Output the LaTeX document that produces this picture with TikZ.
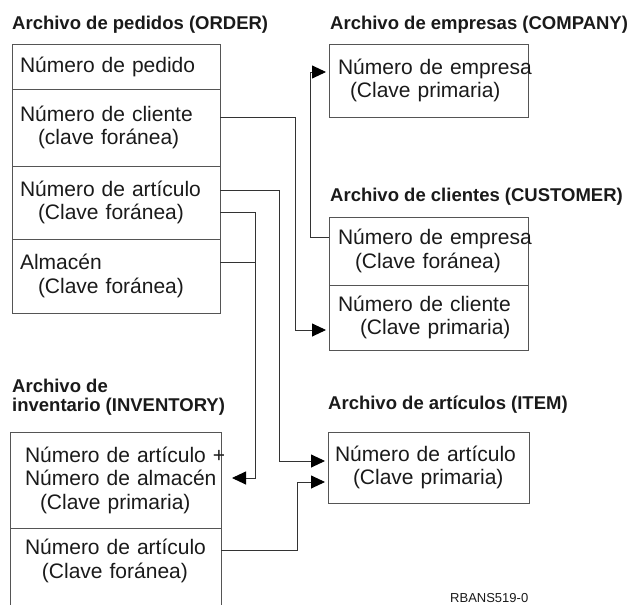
\documentclass[tikz,border=0pt]{standalone}
\usepackage{fontspec}
\setmainfont{Liberation Sans}
\usetikzlibrary{positioning, arrows.meta}

\definecolor{borde}{HTML}{555555}
\definecolor{linea}{HTML}{333333}
\definecolor{texto}{HTML}{1A1A1A}

\tikzset{
  titulo/.style={anchor=west, inner sep=0pt, align=left, text=texto,
    font=\fontsize{18.5}{19}\selectfont\bfseries},
  campo/.style={draw=borde, line width=1pt, rectangle, outer sep=0pt, inner ysep=0pt,
    align=left, text=texto, font=\fontsize{21}{23.5}\selectfont},
  pedido/.style={campo, inner xsep=8pt, text width=192pt},
  empresa/.style={campo, inner xsep=9pt, text width=181pt},
  articulo/.style={campo, inner xsep=7pt, text width=187pt},
  inventario/.style={campo, inner xsep=15pt, text width=181pt},
  enlace/.style={draw=linea, line width=0.9pt},
  flecha/.style={enlace, -{Triangle[length=14pt, width=13pt, color=black]}, shorten >=3pt},
}

\begin{document}
\begin{tikzpicture}[x=1pt, y=-1pt]
  \useasboundingbox (0,0) rectangle (630,605);

  % archivo ORDER
  \node[titulo] (tord) at (12,25) {Archivo de pedidos (ORDER)};
  \node[pedido, minimum height=45pt, anchor=north west] (o1) at (12,44) {Número de pedido};
  \node[pedido, minimum height=77pt, below=0pt of o1] (o2) {Número de cliente\\\hspace*{18pt}(clave foránea)};
  \node[pedido, minimum height=73pt, below=0pt of o2] (o3) {Número de artículo\\\hspace*{18pt}(Clave foránea)};
  \node[pedido, minimum height=74pt, below=0pt of o3] (o4) {Almacén\\\hspace*{18pt}(Clave foránea)};

  % archivo COMPANY
  \node[titulo] (tcomp) at (330,25) {Archivo de empresas (COMPANY)};
  \node[empresa, minimum height=73pt, anchor=north west] (c0) at (329,44) {\mbox{Número de empresa}\\\hspace*{12pt}(Clave primaria)};

  % archivo CUSTOMER
  \node[titulo] (tcust) at (330,197) {Archivo de clientes (CUSTOMER)};
  \node[empresa, minimum height=68pt, anchor=north west] (c1) at (329,217) {\mbox{Número de empresa}\\\hspace*{17pt}(Clave foránea)};
  \node[empresa, minimum height=65pt, below=0pt of c1] (c2) {Número de cliente\\\hspace*{22pt}(Clave primaria)};

  % archivo ITEM
  \node[titulo] (titem) at (328,405) {Archivo de artículos (ITEM)};
  \node[articulo, minimum height=71pt, anchor=north west] (it) at (328,432) {Número de artículo\\\hspace*{18pt}(Clave primaria)};

  % archivo INVENTORY
  \node[titulo] (tinv) at (12,397.5) {Archivo de\\inventario (INVENTORY)};
  \node[inventario, minimum height=96pt, anchor=north west] (i1) at (10,432) {\mbox{Número de artículo +}\\\mbox{Número de almacén}\\\hspace*{15pt}(Clave primaria)};
  \node[inventario, draw=none, minimum height=66pt, below=0pt of i1] (i2) {Número de artículo\\\hspace*{17pt}(Clave foránea)};
  \draw[draw=borde, line width=1pt] ([yshift=-20pt]i2.south west) -- (i2.north west)
    (i2.north east) -- ([yshift=-20pt]i2.south east);

  % enlaces
  \draw[flecha] ([yshift=10.5pt]o2.east) -- ++(75,0) |- ([yshift=-12.5pt]c2.west);
  \draw[flecha] ([yshift=14pt]c1.west) -- ++(-19,0) |- ([yshift=8.5pt]c0.west);
  \draw[flecha] ([yshift=12.5pt]o3.east) -- ++(59,0) |- ([yshift=6.5pt]it.west);
  \draw[flecha] ([yshift=-9.5pt]o3.east) -- ++(35,0) |- ([xshift=8pt, yshift=2pt]i1.east);
  \draw[enlace] ([yshift=14pt]o4.east) -- ++(35,0);
  \draw[flecha] ([yshift=11pt]i2.east) -- ++(76,0) |- ([yshift=-14.5pt]it.west);

  \node[anchor=base west, inner sep=0pt, text=texto, font=\fontsize{13}{13}\selectfont] (ref) at (450,602) {RBANS519-0};
\end{tikzpicture}
\end{document}
